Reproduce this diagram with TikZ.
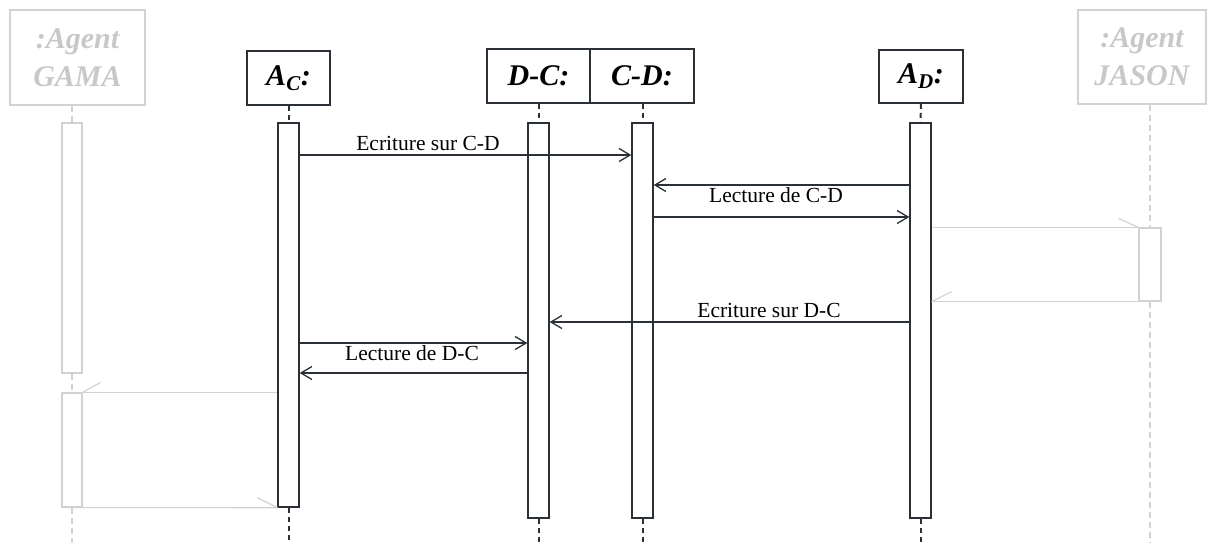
\documentclass[tikz,border=0pt]{standalone}
\usepackage{fontspec}
\setmainfont{Liberation Serif}
\usetikzlibrary{arrows.meta}
\definecolor{faint}{HTML}{D2D2D2}
\definecolor{faintTxt}{HTML}{C8C8C8}
\definecolor{ink}{HTML}{2B2F36}
\begin{document}
\begin{tikzpicture}[x=1pt,y=-1pt,
  head/.style={draw=ink, line width=1.6pt, fill=white, inner sep=0pt, font=\fontsize{30}{32}\selectfont\bfseries\itshape},
  ghost/.style={draw=faint, line width=1.2pt, inner sep=0pt, text=faintTxt, align=center, font=\fontsize{30}{38}\selectfont\bfseries\itshape},
  act/.style={draw=ink, line width=1.3pt, fill=white, minimum width=21pt, inner sep=0pt},
  gact/.style={draw=faint, line width=1.2pt, fill=white, minimum width=20pt, inner sep=0pt},
  life/.style={draw=ink, line width=2pt, dash pattern=on 5pt off 4pt},
  glife/.style={draw=faint, line width=1.2pt, dash pattern=on 6pt off 4pt},
  msg/.style={draw=ink, line width=1.3pt, -{Straight Barb[length=11pt,width=13pt]}},
  gline/.style={draw=faint, line width=1.2pt},
  lbl/.style={font=\fontsize{21.5}{24}\selectfont, text=black, inner sep=0pt, anchor=base}
]
\useasboundingbox (0,0) rectangle (1208,542);
\clip (0,0) rectangle (1208,542);
\coordinate (bottom) at (0,545);

% headers
\node[ghost, minimum width=135pt, minimum height=95pt] (gama) at (77.5,57.5) {:Agent\\GAMA};
\node[ghost, minimum width=128pt, minimum height=94pt] (jason) at (1142,57) {:Agent\\JASON};
\node[head, minimum width=83pt, minimum height=54pt] (hAC) at (288.5,78) {A\textsubscript{C}:};
\node[head, minimum width=103pt, minimum height=54pt] (hDC) at (538.5,76) {D-C:};
\node[head, minimum width=104pt, minimum height=54pt] (hCD) at (642,76) {C-D:};
\node[head, minimum width=84pt, minimum height=53pt] (hAD) at (921,76.5) {A\textsubscript{D}:};

% activations
\node[act, minimum height=384pt] (aC) at (288.5,315) {};
\node[act, minimum height=395pt] (aDC) at (538.5,320.5) {};
\node[act, minimum height=395pt] (aCD) at (642.5,320.5) {};
\node[act, minimum height=395pt] (aD) at (920.5,320.5) {};
\node[gact, minimum height=250pt] (g1) at (72,248) {};
\node[gact, minimum height=114pt] (g2) at (72,450) {};
\node[gact, minimum width=22pt, minimum height=73pt] (j1) at (1150,264.5) {};

% lifelines
\draw[life] (hAC.south) -- (aC.north);
\draw[life] (aC.south) -- (aC.south |- bottom);
\draw[life] (aDC.north |- hDC.south) -- (aDC.north);
\draw[life] (aDC.south) -- (aDC.south |- bottom);
\draw[life] (aCD.north |- hCD.south) -- (aCD.north);
\draw[life] (aCD.south) -- (aCD.south |- bottom);
\draw[life] (hAD.south) -- (aD.north);
\draw[life] (aD.south) -- (aD.south |- bottom);
\draw[glife] (g1.north |- gama.south) -- (g1.north);
\draw[glife] (g1.south) -- (g2.north);
\draw[glife] (g2.south) -- (g2.south |- bottom);
\draw[glife] (j1.north |- jason.south) -- (j1.north);
\draw[glife] (j1.south) -- (j1.south |- bottom);

% faint returns
\draw[gline] (g2.north east) -- (aC.west |- g2.north);
\draw[gline] (g2.south west) -- (aC.south west);
\draw[gline] (g2.north east) -- ++(18,-10);
\draw[gline] (aC.south west) -- ++(-20,-10);
\draw[gline] (aD.east |- j1.north) -- (j1.north east);
\draw[gline] (aD.east |- j1.south) -- (j1.south east);
\draw[gline] (j1.north west) -- ++(-20,-9);
\draw[gline] (aD.east |- j1.south) -- ++(20,-10);

% messages
\draw[msg] (aC.east |- 0,155) -- (aCD.west |- 0,155);
\draw[msg] (aD.west |- 0,185) -- (aCD.east |- 0,185);
\draw[msg] (aCD.east |- 0,217) -- (aD.west |- 0,217);
\draw[msg] (aD.west |- 0,322) -- (aDC.east |- 0,322);
\draw[msg] (aC.east |- 0,343) -- (aDC.west |- 0,343);
\draw[msg] (aDC.west |- 0,373) -- (aC.east |- 0,373);

% labels
\node[lbl] (l1) at (428,150) {Ecriture sur C-D};
\node[lbl] (l2) at (776,202) {Lecture de C-D};
\node[lbl] (l3) at (769,317) {Ecriture sur D-C};
\node[lbl] (l4) at (412,360) {Lecture de D-C};
\end{tikzpicture}
\end{document}
